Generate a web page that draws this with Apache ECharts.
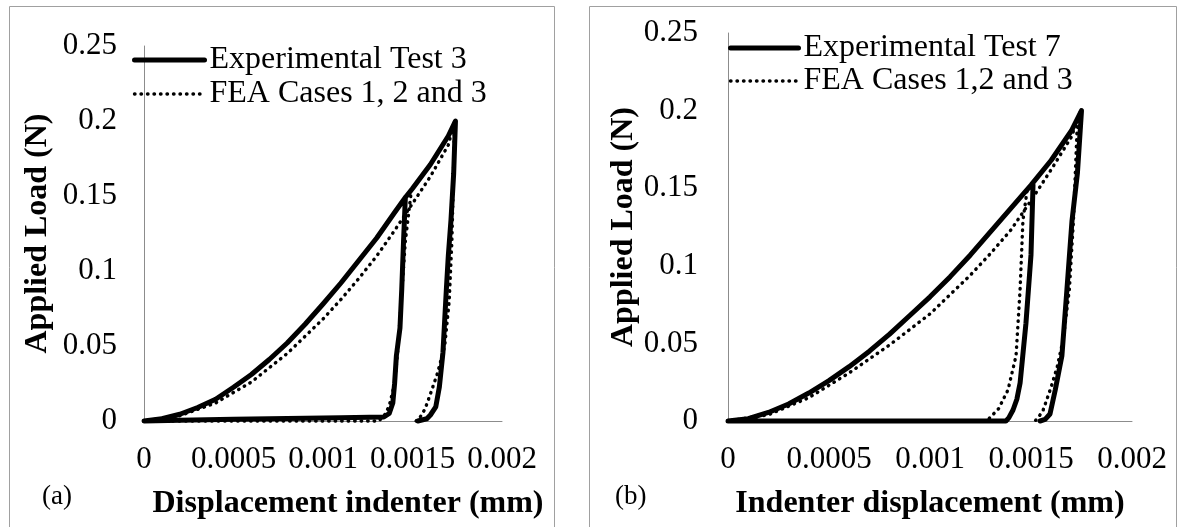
<!DOCTYPE html>
<html>
<head>
<meta charset="utf-8">
<script src="https://cdn.jsdelivr.net/npm/echarts@6/dist/echarts.min.js"></script>
<style>html,body{margin:0;padding:0;background:#fff;}#c{width:1178px;height:527px;}</style>
</head>
<body>
<div id="c"></div>
<script>
// ---------- tick labels ----------
const xTickLabels = ['0', '0.0005', '0.001', '0.0015', '0.002'];
const yTickLabels = ['0', '0.05', '0.1', '0.15', '0.2', '0.25'];

// ---------- panel (a): Experimental Test 3 ----------
const exp3Unload1 = [[0.00146,0.149],[0.00145,0.12],[0.00144,0.088],[0.00143,0.062],[0.00141,0.0435],[0.0014,0.025],[0.00139,0.012],[0.00137,0.005],[0.00134,0.0027]];
const exp3Baseline = [[0.0011,0.0022],[0.0008,0.0017],[0.0005,0.0012],[0.0002,0.0005]];
const exp3Load = [[0,0],[0.0001,0.0015],[0.0002,0.0045],[0.0003,0.009],[0.0004,0.0145],[0.0005,0.0225],[0.0006,0.031],[0.0007,0.041],[0.0008,0.052],[0.0009,0.0645],[0.001,0.078],[0.0011,0.092],[0.0012,0.107],[0.0013,0.122],[0.0014,0.139],[0.00146,0.149],[0.0015,0.155],[0.0016,0.171],[0.0017,0.19],[0.00174,0.2]];
const exp3Unload2 = [[0.00173,0.165],[0.001715,0.134],[0.0017,0.11],[0.00169,0.0896],[0.00167,0.0455],[0.00165,0.0227],[0.00163,0.0094],[0.0016,0.004],[0.00158,0.0015],[0.00153,0]];

// ---------- panel (a): FEA Cases 1, 2 and 3 ----------
const fea3Unload1 = [[0.00149,0.15],[0.00146,0.12],[0.00144,0.085],[0.00142,0.05],[0.0014,0.025],[0.00137,0.01],[0.00134,0.003],[0.00131,0]];
const fea3Load = [[0,0],[0.0002,0.0035],[0.0004,0.012],[0.0006,0.026],[0.0008,0.045],[0.001,0.068],[0.0011,0.081],[0.0012,0.095],[0.0013,0.11],[0.0014,0.127],[0.0015,0.145],[0.0016,0.163],[0.0017,0.184],[0.001735,0.2]];
const fea3Unload2 = [[0.001728,0.16],[0.00172,0.12],[0.001705,0.08],[0.00168,0.05],[0.00164,0.032],[0.0016,0.018],[0.00157,0.008],[0.00154,0.002],[0.00152,0]];

// ---------- panel (b): Experimental Test 7 ----------
const exp7Unload1 = [[0.00151,0.152],[0.0015,0.107],[0.001475,0.063],[0.001446,0.0245],[0.00143,0.014],[0.001411,0.0071],[0.00139,0.002],[0.001376,0]];
const exp7Load = [[0,0],[0.0001,0.0015],[0.0002,0.0055],[0.0003,0.011],[0.0004,0.018],[0.0005,0.026],[0.0006,0.035],[0.0007,0.045],[0.0008,0.056],[0.0009,0.068],[0.001,0.08],[0.0011,0.093],[0.0012,0.107],[0.0013,0.122],[0.0014,0.137],[0.0015,0.152],[0.0016,0.168],[0.0017,0.187],[0.00175,0.2]];
const exp7Unload2 = [[0.00173,0.16],[0.001703,0.129],[0.001678,0.085],[0.001653,0.042],[0.00162,0.02],[0.001594,0.0045],[0.00157,0.001],[0.001545,0]];

// ---------- panel (b): FEA Cases 1,2 and 3 ----------
const fea7Unload1 = [[0.00148,0.148],[0.00146,0.129],[0.001446,0.085],[0.001426,0.042],[0.001386,0.02],[0.00134,0.008],[0.0013,0.0026],[0.00128,0]];
const fea7Load = [[0,0],[0.0002,0.004],[0.0004,0.015],[0.0006,0.031],[0.0008,0.049],[0.001,0.069],[0.0012,0.094],[0.0013,0.108],[0.0014,0.123],[0.0015,0.142],[0.0016,0.162],[0.0017,0.183],[0.001745,0.2]];
const fea7Unload2 = [[0.001728,0.1875],[0.00171,0.129],[0.00169,0.085],[0.00166,0.053],[0.00163,0.035],[0.0016,0.022],[0.00156,0.007],[0.00154,0.003],[0.00152,0]];

// path: first unloading -> back along baseline to origin -> loading to peak -> final unloading
function path(unload1, baseline, load, unload2) {
  return unload1.concat(baseline, load, unload2);
}

const FONT = "'Liberation Serif', 'Times New Roman', serif";
const TICK_SIZE = 31;

function xAxisCfg(idx, name, pad) {
  return {
    type: 'value', gridIndex: idx, min: 0, max: 0.002, interval: 0.0005,
    name: name, nameLocation: 'middle', nameGap: 67,
    nameTextStyle: { fontFamily: FONT, fontSize: 32, fontWeight: 'bold', color: '#000', padding: pad },
    axisLine: { show: true, lineStyle: { color: '#8c8c8c', width: 1 } },
    axisTick: { show: false }, splitLine: { show: false },
    axisLabel: { fontFamily: FONT, fontSize: TICK_SIZE, color: '#000', margin: 23,
      formatter: (v, i) => xTickLabels[i] }
  };
}
function yAxisCfg(idx, name, gap, margin) {
  return {
    type: 'value', gridIndex: idx, min: 0, max: 0.25, interval: 0.05,
    name: name, nameLocation: 'middle', nameGap: gap,
    nameTextStyle: { fontFamily: FONT, fontSize: 32, fontWeight: 'bold', color: '#000' },
    axisLine: { show: true, lineStyle: { color: '#8c8c8c', width: 1 } },
    axisTick: { show: false }, splitLine: { show: false },
    axisLabel: { fontFamily: FONT, fontSize: TICK_SIZE, color: '#000', margin: margin,
      formatter: (v, i) => yTickLabels[i] }
  };
}

const solid = { color: '#000', width: 5, cap: 'round', join: 'round' };
const dotted = { color: '#000', width: 3.4, type: [0.5, 6], cap: 'round', join: 'round' };

function lineSeries(name, idx, data, style) {
  return {
    name: name, type: 'line', xAxisIndex: idx, yAxisIndex: idx, data: data,
    symbol: 'none', showSymbol: false, clip: false, silent: true,
    lineStyle: style, itemStyle: { color: '#000' }, animation: false
  };
}

const legendText = { fontFamily: FONT, fontSize: 32, color: '#000', lineHeight: 32 };
function legendItem(name, style) {
  return { name: name, itemStyle: { opacity: 0 }, lineStyle: Object.assign({}, style) };
}

const option = {
  animation: false,
  backgroundColor: '#fff',
  grid: [
    { left: 144, top: 46, width: 358, height: 375, containLabel: false },
    { left: 728, top: 33, width: 404, height: 388, containLabel: false }
  ],
  xAxis: [ xAxisCfg(0, 'Displacement indenter (mm)', [0, 0, 0, 50]), xAxisCfg(1, 'Indenter displacement (mm)', [0, 0, 0, 0]) ],
  yAxis: [ yAxisCfg(0, 'Applied Load (N)', 90, 27), yAxisCfg(1, 'Applied Load (N)', 86, 30) ],
  legend: [
    { data: [legendItem('Experimental Test 3', solid), legendItem('FEA Cases 1, 2 and 3', dotted)],
      orient: 'vertical', left: 132, top: 44, itemWidth: 70, itemHeight: 14, itemGap: 2,
      itemStyle: { opacity: 0 }, textStyle: legendText, padding: 0 },
    { data: [legendItem('Experimental Test 7', solid), legendItem('FEA Cases 1,2 and 3', dotted)],
      orient: 'vertical', left: 728, top: 32, itemWidth: 68, itemHeight: 14, itemGap: 1,
      itemStyle: { opacity: 0 }, textStyle: legendText, padding: 0 }
  ],
  series: [
    lineSeries('FEA Cases 1, 2 and 3', 0, path(fea3Unload1, [], fea3Load, fea3Unload2), dotted),
    lineSeries('Experimental Test 3', 0, path(exp3Unload1, exp3Baseline, exp3Load, exp3Unload2), solid),
    lineSeries('FEA Cases 1,2 and 3', 1, path(fea7Unload1, [], fea7Load, fea7Unload2), dotted),
    lineSeries('Experimental Test 7', 1, path(exp7Unload1, [], exp7Load, exp7Unload2), solid)
  ],
  graphic: [
    { type: 'rect', shape: { x: 9.5, y: 6.5, width: 545, height: 540 }, style: { fill: 'none', stroke: '#a0a0a0', lineWidth: 1 }, silent: true },
    { type: 'rect', shape: { x: 589.5, y: 6.5, width: 587, height: 540 }, style: { fill: 'none', stroke: '#a0a0a0', lineWidth: 1 }, silent: true },
    { type: 'text', left: 42, top: 483, style: { text: '(a)', font: "27px 'Liberation Serif', serif", fill: '#000' }, silent: true },
    { type: 'text', left: 615, top: 483, style: { text: '(b)', font: "27px 'Liberation Serif', serif", fill: '#000' }, silent: true }
  ]
};

const chart = echarts.init(document.getElementById('c'), null, { renderer: 'canvas' });
chart.setOption(option);
</script>
</body>
</html>
